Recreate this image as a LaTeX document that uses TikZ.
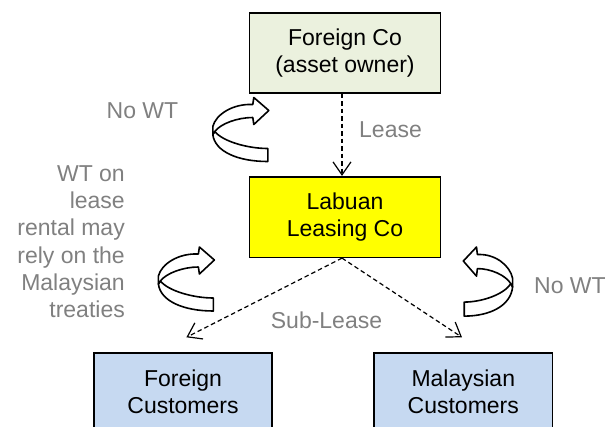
\documentclass[tikz,border=0pt]{standalone}
\usepackage{fontspec}
\setmainfont{Liberation Sans}
\usetikzlibrary{arrows.meta}
\definecolor{ownerfill}{HTML}{EBF1DE}
\definecolor{leasefill}{HTML}{FFFF00}
\definecolor{custfill}{HTML}{C6D9F1}
\definecolor{notegray}{HTML}{808080}

\tikzset{
  entity/.style={draw=black, line width=1.6pt, inner sep=0pt, align=center,
    font=\fontsize{23}{26.7}\selectfont},
  boxtext/.style={inner sep=0pt, align=center, font=\fontsize{23}{26.7}\selectfont},
  note/.style={inner sep=0pt, text=notegray, font=\fontsize{23}{27.3}\selectfont},
  flow/.style={dashed, dash pattern=on 4.5pt off 3pt, line width=1.2pt,
    -{Straight Barb[length=13pt,width=18pt,line width=1.2pt]}},
  ribbon/.style={fill=white, draw=black, line width=1.6pt, line join=round},
  turnarrow/.pic={
    % lower band, from the fold to the square tail
    \draw[ribbon] (2,34) .. controls (10,44) and (35,51) .. (55,51)
      -- (55,64) .. controls (25,64) and (2,54) .. (0,37) -- cycle;
    % upper band with the arrowhead
    \draw[ribbon] (0,37) -- (0,29) .. controls (3,17) and (20,6) .. (40,7)
      -- (41,0) -- (56,13) -- (41,27) -- (40,20)
      .. controls (25,20) and (8,26) .. (2,34) -- cycle;
  }
}

\begin{document}
\begin{tikzpicture}[x=1pt, y=-1pt]
\useasboundingbox (0,0) rectangle (608,426);
\clip (0,0) rectangle (608,426);

% companies
\node[entity, fill=ownerfill, minimum width=191pt, minimum height=80pt]
  (owner) at (345,52.7) {Foreign Co\\(asset owner)};
\node[entity, fill=leasefill, minimum width=191pt, minimum height=80.6pt]
  (labuan) at (345,217) {Labuan\\Leasing Co};

% customers (boxes run past the lower edge)
\node[entity, fill=custfill, minimum width=178pt, minimum height=100pt]
  (fcust) at (183,402.7) {};
\node[boxtext] (fcusttext) at (183,391.8) {Foreign\\Customers};
\node[entity, fill=custfill, minimum width=178.6pt, minimum height=100pt]
  (mcust) at (463.3,402.7) {};
\node[boxtext] (mcusttext) at (463.3,391.8) {Malaysian\\Customers};

% lease flows
\coordinate (subL) at (186.4,337.3);
\coordinate (subR) at (462,337.3);
\draw[flow] ([xshift=-3pt]owner.south) -- ([xshift=-3pt]labuan.north);
\draw[flow] ([xshift=-3pt]labuan.south) -- (subL);
\draw[flow] ([xshift=-3pt]labuan.south) -- (subR);

% withholding tax turn arrows
\path (212.8,97.5) pic {turnarrow};
\path (158.4,247) pic {turnarrow};
\path (512.6,247) pic[xscale=-0.88, yscale=1.08] {turnarrow};

% notes
\node[note, anchor=base] (nowt1) at (142.5,118) {No WT};
\node[note, anchor=base west] (lease) at (359,137.7) {Lease};
\node[note, align=right, anchor=north east] (treaty) at (125,165.2)
  {WT on\\lease\\rental may\\rely on the\\Malaysian\\treaties};
\node[note, anchor=base] (sublease) at (326.5,328) {Sub-Lease};
\node[note, anchor=base west] (nowt2) at (534,293) {No WT};
\end{tikzpicture}
\end{document}
